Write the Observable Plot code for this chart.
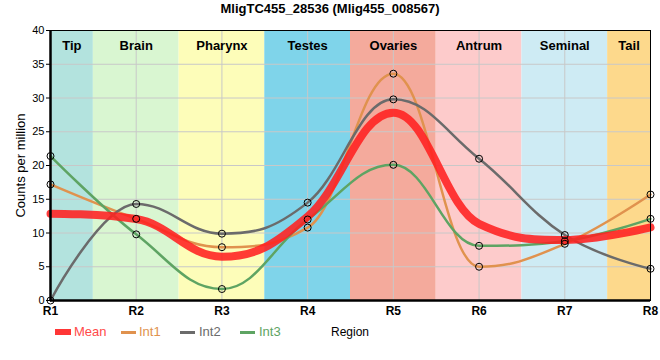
<!DOCTYPE html>
<html>
<head>
<meta charset="utf-8">
<script src="https://cdn.jsdelivr.net/npm/d3@7"></script>
<script src="https://cdn.jsdelivr.net/npm/@observablehq/plot@0.6"></script>
<style>
  body { margin: 0; background: #fff; font-family: "Liberation Sans", Arial, sans-serif; }
  #wrap { position: relative; width: 660px; height: 360px; overflow: hidden; }
  #title { position: absolute; left: 0; top: 0; width: 660px; height: 20px; line-height: 18px; text-align: center; font-weight: bold; font-size: 13px; color: #000; }
  #chart { position: absolute; left: 0; top: 20px; }
  #legend { position: absolute; left: 0; top: 322px; width: 660px; height: 20px; font-size: 13px; }
  .item { position: absolute; top: 0; height: 20px; line-height: 20px; white-space: nowrap; }
  .sw { position: absolute; }
</style>
</head>
<body>
<div id="wrap">
  <div id="title"></div>
  <div id="chart"></div>
  <div id="legend"></div>
</div>
<script>
const title = "MligTC455_28536 (Mlig455_008567)";
const regions = ["R1", "R2", "R3", "R4", "R5", "R6", "R7", "R8"];
const int1 = [17.2, 12.1, 7.9, 10.8, 33.6, 5.0, 8.4, 15.7];
const int2 = [0.0, 14.3, 9.9, 14.5, 29.8, 21.0, 9.7, 4.7];
const int3 = [21.4, 9.8, 1.7, 12.0, 20.1, 8.1, 8.8, 12.1];
const seriesNames = ["Int1", "Int2", "Int3"];
const seriesColors = {Mean: "#ff2020", Int1: "#e0924e", Int2: "#6b6b6b", Int3: "#5ea463"};
const bandNames = ["Tip", "Brain", "Pharynx", "Testes", "Ovaries", "Antrum", "Seminal", "Tail"];
const bandStart = [1, 1.5, 2.5, 3.5, 4.5, 5.5, 6.5, 7.5];
const bandEnd = [1.5, 2.5, 3.5, 4.5, 5.5, 6.5, 7.5, 8];
const bandColors = ["#b3e3de", "#d9f6d1", "#fdfdb9", "#7fd4ea", "#f4aa9c", "#fdcbcb", "#ceebf4", "#fdd98c"];
const yTicks = [0, 5, 10, 15, 20, 25, 30, 35, 40];

document.getElementById("title").textContent = title;

// Smoothed spline: control points at 0.4 of each interval, clamped at extremes
function smoothSpline(context) {
  let pts;
  return {
    areaStart() {}, areaEnd() {},
    lineStart() { pts = []; },
    point(x, y) { pts.push([+x, +y]); },
    lineEnd() {
      const n = pts.length;
      if (!n) return;
      const sm = 1.5, den = sm + 1;
      const lc = [], rc = [];
      for (let i = 1; i < n - 1; i++) {
        const [px, py] = pts[i], [lx, ly] = pts[i - 1], [nx, ny] = pts[i + 1];
        let lcx = (sm * px + lx) / den, lcy = (sm * py + ly) / den;
        let rcx = (sm * px + nx) / den, rcy = (sm * py + ny) / den;
        if (rcx !== lcx) {
          const corr = ((rcy - lcy) * (rcx - px)) / (rcx - lcx) + py - rcy;
          lcy += corr; rcy += corr;
        }
        if (lcy > ly && lcy > py) { lcy = Math.max(ly, py); rcy = 2 * py - lcy; }
        else if (lcy < ly && lcy < py) { lcy = Math.min(ly, py); rcy = 2 * py - lcy; }
        if (rcy > ny && rcy > py) { rcy = Math.max(ny, py); lcy = 2 * py - rcy; }
        else if (rcy < ny && rcy < py) { rcy = Math.min(ny, py); lcy = 2 * py - rcy; }
        lc[i] = [lcx, lcy]; rc[i] = [rcx, rcy];
      }
      context.moveTo(pts[0][0], pts[0][1]);
      for (let i = 1; i < n; i++) {
        const a = rc[i - 1] || pts[i - 1];
        const b = lc[i] || pts[i];
        context.bezierCurveTo(a[0], a[1], b[0], b[1], pts[i][0], pts[i][1]);
      }
    }
  };
}

const idx = regions.map((_, i) => i + 1);
const bands = bandNames.map((n, i) => ({name: n, x1: bandStart[i], x2: bandEnd[i], mid: (bandStart[i] + bandEnd[i]) / 2, color: bandColors[i]}));
const series = {Int1: int1, Int2: int2, Int3: int3};
const longData = [];
for (const s of seriesNames) series[s].forEach((v, i) => longData.push({series: s, x: i + 1, y: v}));
const meanData = regions.map((r, i) => ({x: i + 1, y: (int1[i] + int2[i] + int3[i]) / 3}));

const plot = Plot.plot({
  width: 660,
  height: 302,
  marginLeft: 50,
  marginRight: 10,
  marginTop: 10,
  marginBottom: 22,
  style: {fontFamily: "Liberation Sans, Arial, sans-serif", fontSize: "11px", color: "#000", background: "transparent"},
  x: {domain: [1, 8], ticks: idx, tickFormat: d => regions[d - 1], label: null},
  y: {domain: [0, 40], ticks: yTicks, label: null},
  marks: [
    Plot.rectY(bands, {x1: "x1", x2: "x2", y1: 0, y2: 40, fill: "color"}),
    Plot.gridX(idx, {stroke: "#c8c8c8", strokeOpacity: 1, strokeWidth: 1}),
    Plot.gridY(yTicks, {stroke: "#c8c8c8", strokeOpacity: 1, strokeWidth: 1}),
    Plot.text(bands, {x: "mid", text: "name", frameAnchor: "top", dy: 10, fontWeight: "bold", fontSize: 13, fill: "#000"}),
    Plot.line(longData, {x: "x", y: "y", z: "series", stroke: d => seriesColors[d.series], strokeWidth: 2.5, curve: smoothSpline}),
    Plot.line(meanData, {x: "x", y: "y", stroke: seriesColors.Mean, strokeWidth: 8, strokeOpacity: 0.88, curve: smoothSpline}),
    Plot.dot(longData, {x: "x", y: "y", r: 3.5, stroke: "#000", strokeWidth: 1, fill: "none"}),
    Plot.frame({stroke: "#000", strokeWidth: 1}),
    Plot.ruleX([1], {stroke: "#000", strokeWidth: 2.5}),
    Plot.ruleY([0], {stroke: "#000", strokeWidth: 2.5}),
    Plot.axisX(idx, {tickSize: 0, tickPadding: 6, fontWeight: "bold", fontSize: 12, tickFormat: d => regions[d - 1], label: null}),
    Plot.axisY(yTicks, {tickSize: 4, tickPadding: 2, fontSize: 11, label: null}),
    Plot.text(["Counts per million"], {frameAnchor: "left", textAnchor: "middle", dx: -30, rotate: -90, fontSize: 13, fill: "#000"})
  ]
});
document.getElementById("chart").appendChild(plot);

// Legend
const legend = document.getElementById("legend");
const legendItems = [
  {name: "Mean", sx: 55, sw: 16, sh: 6, tx: 74},
  {name: "Int1", sx: 121, sw: 15, sh: 3, tx: 139},
  {name: "Int2", sx: 180, sw: 15, sh: 3, tx: 199},
  {name: "Int3", sx: 240, sw: 15, sh: 3, tx: 259}
];
for (const it of legendItems) {
  const sw = document.createElement("div");
  sw.className = "sw";
  sw.style.left = it.sx + "px";
  sw.style.width = it.sw + "px";
  sw.style.height = it.sh + "px";
  sw.style.top = (10 - it.sh / 2) + "px";
  sw.style.background = seriesColors[it.name];
  if (it.name === "Mean") sw.style.opacity = 0.9;
  legend.appendChild(sw);
  const t = document.createElement("div");
  t.className = "item";
  t.style.left = it.tx + "px";
  t.style.color = it.name === "Mean" ? "#ff4a4a" : seriesColors[it.name];
  t.textContent = it.name;
  legend.appendChild(t);
}
const reg = document.createElement("div");
reg.className = "item";
reg.style.left = "331px";
reg.style.fontSize = "12px";
reg.style.color = "#000";
reg.textContent = "Region";
legend.appendChild(reg);
</script>
</body>
</html>
